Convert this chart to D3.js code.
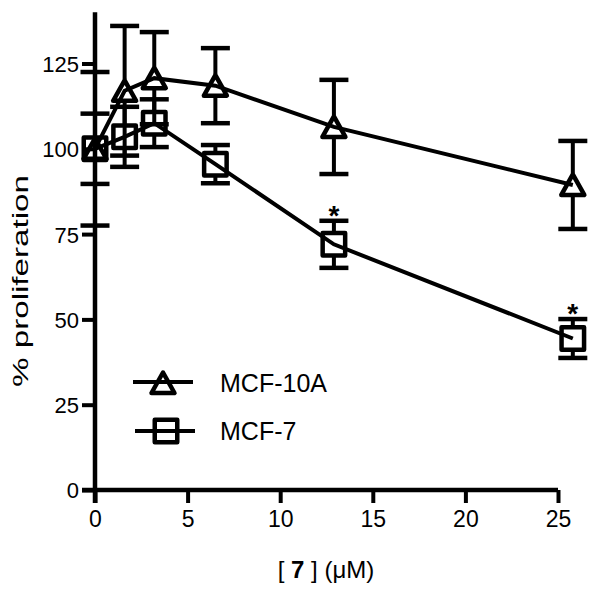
<!DOCTYPE html>
<html>
<head>
<meta charset="utf-8">
<script src="https://cdn.jsdelivr.net/npm/d3@7"></script>
<style>
  html, body { margin: 0; padding: 0; background: #fff; }
  svg { display: block; }
  text { font-family: "Liberation Sans", Arial, Helvetica, sans-serif; fill: #000; }
</style>
</head>
<body>
<svg id="chart" width="602" height="592"></svg>
<script>
// ---- data ----
const doses = [0, 1.6, 3.2, 6.5, 12.9, 25.8];           // [7] (µM)
const mcf10aMean = [100, 117, 120.7, 118.5, 106.4, 89.4];
const mcf10aErr  = [22.5, 19, 13.5, 11, 13.8, 12.9];
const mcf7Mean   = [100, 103.5, 107.5, 95.5, 72, 44.4];
const mcf7Err    = [10.3, 8.8, 7, 5.6, 6.9, 5.7];
const mcf7Sig    = [false, false, false, false, true, true];
const seriesNames = ["MCF-10A", "MCF-7"];
const xTicks = [0, 5, 10, 15, 20, 25];
const yTicks = [0, 25, 50, 75, 100, 125];

// ---- layout ----
const svg = d3.select("#chart");
const x = d3.scaleLinear().domain([0, 25]).range([95, 558]);
const y = d3.scaleLinear().domain([0, 140]).range([490, 12.3]);

const AXW = 4.5, TICK = 13;

// axes
const yAxis = d3.axisLeft(y).tickValues(yTicks).tickSize(TICK).tickPadding(3).tickSizeOuter(0);
const gy = svg.append("g").attr("transform", `translate(${x(0)},0)`).call(yAxis);
gy.select(".domain").attr("stroke", "#000").attr("stroke-width", AXW)
  .attr("d", `M0,${y(140)}V${y(0) + TICK}`);
gy.selectAll(".tick line").attr("stroke", "#000").attr("stroke-width", 4);
gy.selectAll(".tick text").attr("font-size", 22).attr("dy", "0.36em")
  .attr("font-family", "Liberation Sans, Arial, sans-serif").attr("fill", "#000");

const xAxis = d3.axisBottom(x).tickValues(xTicks).tickSize(TICK).tickPadding(7).tickSizeOuter(0);
const gx = svg.append("g").attr("transform", `translate(0,${y(0)})`).call(xAxis);
gx.select(".domain").attr("stroke", "#000").attr("stroke-width", AXW)
  .attr("d", `M${x(0) - TICK},0H${x(25)}`);
gx.selectAll(".tick line").attr("stroke", "#000").attr("stroke-width", 4);
gx.selectAll(".tick text").attr("font-size", 23).attr("dy", "0.75em")
  .attr("font-family", "Liberation Sans, Arial, sans-serif").attr("fill", "#000");

// axis titles
svg.append("text")
  .attr("transform", `translate(28,281) rotate(-90)`)
  .attr("text-anchor", "middle").attr("font-size", 22)
  .attr("textLength", 212).attr("lengthAdjust", "spacingAndGlyphs")
  .text("% proliferation");

const xt = svg.append("text").attr("x", 326).attr("y", 578)
  .attr("text-anchor", "middle").attr("font-size", 24);
xt.append("tspan").text("[ ");
xt.append("tspan").attr("font-weight", "bold").text("7");
xt.append("tspan").text(" ] (\u03BCM)");

// markers
const TRI = {top: -10.5, bottom: 10, half: 11.5};
const SQ = 11.25;
function triPath(cx, cy) {
  return `M${cx},${cy + TRI.top}L${cx + TRI.half},${cy + TRI.bottom}L${cx - TRI.half},${cy + TRI.bottom}Z`;
}
function sqPath(cx, cy) {
  return `M${cx - SQ},${cy - SQ}H${cx + SQ}V${cy + SQ}H${cx - SQ}Z`;
}

const series = [
  {name: seriesNames[0], mean: mcf10aMean, err: mcf10aErr, shape: "tri", sig: null},
  {name: seriesNames[1], mean: mcf7Mean, err: mcf7Err, shape: "sq", sig: mcf7Sig}
];

const line = d3.line().x(d => x(d[0])).y(d => y(d[1]));
const CAP = 14.5;

series.forEach(s => {
  const pts = doses.map((d, i) => [d, s.mean[i], s.err[i]]);
  const g = svg.append("g");
  const edgeTop = s.shape === "tri" ? -TRI.top + 1 : SQ + 1;
  const edgeBot = s.shape === "tri" ? TRI.bottom + 1 : SQ + 1;
  // error bars
  pts.forEach(p => {
    const cx = x(p[0]), cy = y(p[1]);
    const yt = y(p[1] + p[2]), yb = y(p[1] - p[2]);
    if (cy - edgeTop > yt)
      g.append("line").attr("x1", cx).attr("x2", cx).attr("y1", yt).attr("y2", cy - edgeTop)
        .attr("stroke", "#000").attr("stroke-width", 4);
    if (cy + edgeBot < yb)
      g.append("line").attr("x1", cx).attr("x2", cx).attr("y1", cy + edgeBot).attr("y2", yb)
        .attr("stroke", "#000").attr("stroke-width", 4);
    [yt, yb].forEach(yy => g.append("line")
      .attr("x1", cx - CAP).attr("x2", cx + CAP).attr("y1", yy).attr("y2", yy)
      .attr("stroke", "#000").attr("stroke-width", 4.5));
  });
  // markers
  g.selectAll("path.m").data(pts).join("path").attr("class", "m")
    .attr("d", p => s.shape === "tri" ? triPath(x(p[0]), y(p[1])) : sqPath(x(p[0]), y(p[1])))
    .attr("fill", "none").attr("stroke", "#000").attr("stroke-width", 4.5)
    .attr("stroke-linejoin", "round");
  // connecting line
  g.append("path").attr("d", line(pts)).attr("fill", "none")
    .attr("stroke", "#000").attr("stroke-width", 4);
  // significance marks
  if (s.sig) {
    pts.forEach((p, i) => {
      if (!s.sig[i]) return;
      g.append("text").attr("x", x(p[0])).attr("y", y(p[1] + p[2]) - 11)
        .attr("dy", "0.55em").attr("text-anchor", "middle")
        .attr("font-size", 28).attr("font-weight", "bold").text("*");
    });
  }
});

// legend
const legend = [
  {name: seriesNames[0], shape: "tri", ly: 382, mx: 163, x1: 133, x2: 193, ty: 392},
  {name: seriesNames[1], shape: "sq", ly: 431, mx: 166, x1: 135, x2: 195, ty: 440}
];
legend.forEach(l => {
  svg.append("line").attr("x1", l.x1).attr("x2", l.x2).attr("y1", l.ly).attr("y2", l.ly)
    .attr("stroke", "#000").attr("stroke-width", 4);
  svg.append("path").attr("d", l.shape === "tri" ? triPath(l.mx, l.ly + 1) : sqPath(l.mx, l.ly))
    .attr("fill", "none").attr("stroke", "#000").attr("stroke-width", 4.5).attr("stroke-linejoin", "round");
  svg.append("text").attr("x", 220).attr("y", l.ty).attr("font-size", 25).text(l.name);
});
</script>
</body>
</html>
